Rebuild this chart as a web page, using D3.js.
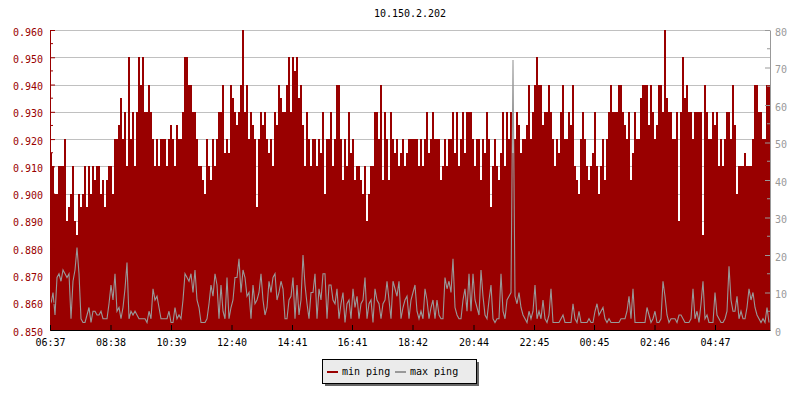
<!DOCTYPE html>
<html><head><meta charset="utf-8">
<script src="https://cdn.jsdelivr.net/npm/d3@7"></script>
<style>
body{margin:0;background:#fff}
text{font-family:"DejaVu Sans Mono",monospace;font-size:10px}
</style>
</head><body>
<svg id="c" width="800" height="400"></svg>
<script>
const title = "10.150.2.202";
const startTime = "06:37";
const stepMinutes = 4;
const xTickLabels = ["06:37","08:38","10:39","12:40","14:41","16:41","18:42","20:44","22:45","00:45","02:46","04:47"];
const leftTicks = [0.85,0.86,0.87,0.88,0.89,0.90,0.91,0.92,0.93,0.94,0.95,0.96];
const rightTicks = [0,10,20,30,40,50,60,70,80];
const seriesNames = ["min ping","max ping"];

// min ping (left axis), one value per 4 minutes
const minPing = [
0.915,0.91,0.90,0.90,0.91,0.91,0.91,0.92,0.89,0.895,
0.90,0.91,0.89,0.885,0.90,0.895,0.90,0.91,0.895,0.91,
0.90,0.91,0.905,0.91,0.91,0.90,0.905,0.895,0.905,0.91,
0.91,0.90,0.92,0.92,0.925,0.935,0.92,0.93,0.91,0.95,
0.92,0.93,0.91,0.93,0.95,0.94,0.95,0.93,0.93,0.94,
0.93,0.92,0.91,0.92,0.91,0.92,0.92,0.92,0.91,0.92,

0.925,0.92,0.91,0.925,0.92,0.92,0.93,0.95,0.95,0.94,
0.94,0.93,0.93,0.92,0.91,0.91,0.905,0.90,0.92,0.91,
0.905,0.92,0.91,0.92,0.93,0.93,0.94,0.915,0.92,0.915,
0.94,0.935,0.93,0.925,0.93,0.94,0.96,0.93,0.94,0.92,
0.93,0.925,0.92,0.895,0.92,0.93,0.925,0.93,0.92,0.915,
0.92,0.91,0.93,0.925,0.94,0.935,0.93,0.93,0.94,0.95,

0.93,0.95,0.945,0.95,0.935,0.94,0.925,0.91,0.93,0.92,
0.91,0.92,0.92,0.91,0.92,0.915,0.93,0.90,0.92,0.92,
0.93,0.91,0.92,0.94,0.94,0.92,0.905,0.92,0.91,0.93,
0.915,0.92,0.905,0.91,0.91,0.905,0.90,0.91,0.89,0.90,
0.91,0.91,0.93,0.93,0.92,0.94,0.905,0.93,0.92,0.905,
0.93,0.92,0.915,0.92,0.91,0.915,0.92,0.91,0.915,0.92,

0.92,0.92,0.92,0.92,0.91,0.92,0.91,0.92,0.93,0.915,
0.92,0.93,0.92,0.92,0.92,0.905,0.91,0.92,0.91,0.92,
0.92,0.93,0.915,0.93,0.91,0.92,0.93,0.915,0.93,0.93,
0.93,0.92,0.91,0.92,0.92,0.905,0.92,0.915,0.93,0.92,
0.895,0.91,0.92,0.91,0.905,0.915,0.93,0.91,0.93,0.92,
0.93,0.915,0.92,0.93,0.925,0.915,0.92,0.92,0.925,0.94,

0.92,0.93,0.94,0.95,0.94,0.94,0.925,0.93,0.93,0.94,
0.93,0.92,0.91,0.92,0.915,0.93,0.94,0.92,0.92,0.93,
0.925,0.94,0.91,0.905,0.90,0.92,0.93,0.92,0.91,0.905,
0.91,0.915,0.93,0.91,0.90,0.91,0.92,0.905,0.92,0.93,
0.94,0.93,0.93,0.93,0.94,0.94,0.93,0.925,0.92,0.93,
0.905,0.915,0.93,0.92,0.92,0.935,0.94,0.94,0.94,0.925,

0.94,0.93,0.92,0.925,0.94,0.94,0.93,0.96,0.935,0.93,
0.93,0.92,0.92,0.93,0.89,0.93,0.95,0.935,0.94,0.93,
0.93,0.92,0.93,0.93,0.93,0.93,0.885,0.94,0.93,0.92,
0.92,0.93,0.925,0.93,0.91,0.92,0.91,0.92,0.93,0.93,
0.92,0.94,0.925,0.90,0.91,0.91,0.91,0.915,0.91,0.91,
0.91,0.92,0.94,0.94,0.93,0.93,0.92,0.92,0.94,0.94
];

// max ping (right axis), one value per 4 minutes
const maxPing = [
7,10,4,14,15,13,16,15,14,15,
3,13,16,22,15,3,2,2,4,6,
2,5,5,4,4,5,3,3,3,7,
12,8,15,5,6,3,6,11,18,3,
5,4,5,4,3,3,3,3,2,5,
3,11,8,9,6,3,3,3,3,5,

2,2,6,3,4,3,8,15,14,13,
15,10,16,8,6,2,2,2,3,7,
12,9,15,12,3,12,5,3,14,3,
6,8,14,14,19,10,16,14,9,10,
3,12,7,8,10,15,8,4,6,13,
10,14,15,8,10,13,11,3,3,8,

9,14,3,12,4,8,20,12,7,3,
10,10,15,3,11,8,15,15,3,12,
12,8,7,11,3,7,10,2,7,8,
3,11,6,9,3,7,8,14,3,7,
8,2,11,8,7,3,7,8,13,8,
3,13,11,9,13,3,6,8,9,3,

8,10,12,5,3,5,3,11,8,3,
6,8,3,8,4,3,3,14,11,13,
10,19,6,4,3,3,8,11,5,15,
5,15,8,6,4,16,9,4,3,8,
12,3,2,3,3,15,5,3,8,9,
10,72,9,7,10,6,4,3,2,5,

3,5,12,3,5,3,8,3,2,4,
11,2,2,2,2,3,4,2,2,2,
2,7,3,2,5,2,2,2,2,3,
2,2,5,7,4,5,6,3,2,3,
2,2,2,2,2,3,3,3,5,9,
3,11,2,2,2,2,2,2,6,4,

2,3,5,2,2,3,13,9,4,2,
3,3,3,2,4,4,3,2,2,2,
3,11,3,5,2,7,13,3,4,2,
2,2,10,4,3,2,2,3,5,17,
8,5,5,9,3,5,3,3,6,11,
8,10,6,4,3,2,3,2,6,2
];

const RED = "#990000", GRAY = "#999999";
const svg = d3.select("#c");
const L = 50, R = 770, T = 30, B = 330;

const parse = d3.timeParse("%H:%M");
const t0 = parse(startTime);
const times = minPing.map((_, i) => d3.timeMinute.offset(t0, i * stepMinutes));
const tEnd = d3.timeMinute.offset(t0, minPing.length * stepMinutes);
const x = d3.scaleTime().domain([t0, tEnd]).range([L, R]);
const yL = d3.scaleLinear().domain([0.85, 0.96]).range([B, T]);
const yR = d3.scaleLinear().domain([0, 80]).range([B, T]);

const tickDates = xTickLabels.map(s => { let d = parse(s); if (d < t0) d = d3.timeDay.offset(d, 1); return d; });

// title
svg.append("text").attr("x", (L + R) / 2).attr("y", 17).attr("text-anchor", "middle").attr("fill", "#000").text(title);

// gridlines
svg.append("g").selectAll("line").data(leftTicks.slice(1)).join("line")
  .attr("x1", L).attr("x2", R)
  .attr("y1", d => Math.round(yL(d)) + 0.5).attr("y2", d => Math.round(yL(d)) + 0.5)
  .attr("stroke", "#c0c0c0").attr("stroke-width", 1);

// min ping bars
svg.append("g").attr("shape-rendering", "crispEdges").selectAll("rect").data(minPing).join("rect")
  .attr("x", (d, i) => x(times[i]))
  .attr("width", (d, i) => x(d3.timeMinute.offset(times[i], stepMinutes)) - x(times[i]))
  .attr("y", d => yL(d))
  .attr("height", d => B - yL(d))
  .attr("fill", RED);

// max ping line
svg.append("path").datum(maxPing)
  .attr("d", d3.line().x((d, i) => x(times[i]) + 1).y(d => yR(d)))
  .attr("fill", "none").attr("stroke", GRAY).attr("stroke-width", 1.1);

// left axis
const gl = svg.append("g").attr("transform", `translate(${L},0)`).attr("color", RED)
  .call(d3.axisLeft(yL).tickValues(leftTicks).tickSizeInner(-5).tickSizeOuter(0).tickPadding(7).tickFormat(d3.format(".3f")));
gl.selectAll("text").attr("dy", "0.5em").attr("font-family", "DejaVu Sans Mono").attr("font-size", 10);
const minorL = d3.range(0.855, 0.96, 0.01);
gl.append("g").selectAll("line").data(minorL).join("line")
  .attr("x1", 0).attr("x2", 3).attr("y1", d => yL(d)).attr("y2", d => yL(d)).attr("stroke", RED);

// right axis
const gr = svg.append("g").attr("transform", `translate(${R},0)`).attr("color", GRAY)
  .call(d3.axisRight(yR).tickValues(rightTicks).tickSizeInner(-5).tickSizeOuter(0).tickPadding(5));
gr.selectAll("text").attr("dy", "0.5em").attr("font-family", "DejaVu Sans Mono").attr("font-size", 10);
const minorR = d3.range(5, 80, 10);
gr.append("g").selectAll("line").data(minorR).join("line")
  .attr("x1", 0).attr("x2", -3).attr("y1", d => yR(d)).attr("y2", d => yR(d)).attr("stroke", GRAY);

// bottom axis
const gb = svg.append("g").attr("transform", `translate(0,${B})`).attr("color", "#000")
  .call(d3.axisBottom(x).tickValues(tickDates).tickSizeInner(-5).tickSizeOuter(0).tickPadding(9)
    .tickFormat((d, i) => xTickLabels[i]));
gb.selectAll("text").attr("font-family", "DejaVu Sans Mono").attr("font-size", 10);

// legend
const lg = svg.append("g");
lg.append("rect").attr("x", 325).attr("y", 362).attr("width", 154).attr("height", 24).attr("fill", "#666");
lg.append("rect").attr("x", 322.5).attr("y", 359.5).attr("width", 154).attr("height", 24)
  .attr("fill", "#ebebeb").attr("stroke", "#000");
const items = [{n: seriesNames[0], c: RED, x: 327}, {n: seriesNames[1], c: GRAY, x: 395}];
items.forEach(it => {
  lg.append("line").attr("x1", it.x).attr("x2", it.x + 11).attr("y1", 372).attr("y2", 372)
    .attr("stroke", it.c).attr("stroke-width", 2);
  lg.append("text").attr("x", it.x + 15).attr("y", 375).attr("fill", "#000").text(it.n);
});
</script>
</body></html>
